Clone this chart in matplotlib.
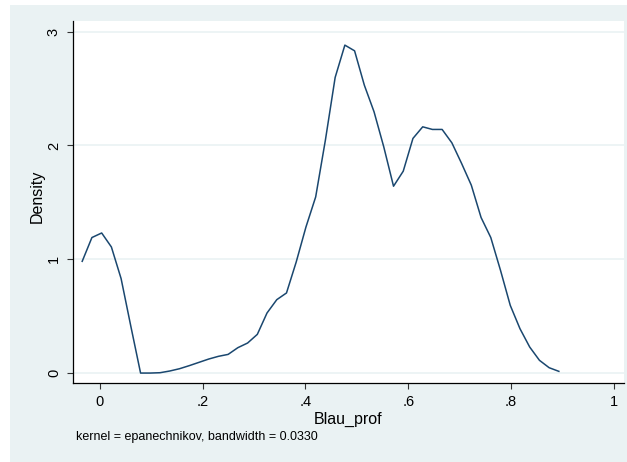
import matplotlib
matplotlib.use("Agg")
import matplotlib.pyplot as plt
from matplotlib.patches import Rectangle

# kdensity evaluation points (Stata default n=50)
grid_x = [-0.0345, -0.0156, 0.0034, 0.0223, 0.0412, 0.0602, 0.0791, 0.0980,
          0.1170, 0.1359, 0.1548, 0.1738, 0.1927, 0.2116, 0.2306, 0.2495,
          0.2684, 0.2874, 0.3063, 0.3252, 0.3442, 0.3631, 0.3820, 0.4010,
          0.4199, 0.4388, 0.4578, 0.4767, 0.4956, 0.5146, 0.5335, 0.5524,
          0.5714, 0.5903, 0.6092, 0.6282, 0.6471, 0.6660, 0.6850, 0.7039,
          0.7228, 0.7418, 0.7607, 0.7796, 0.7986, 0.8175, 0.8364, 0.8554,
          0.8743, 0.8932]
density = [0.982, 1.191, 1.231, 1.108, 0.830, 0.410, 0.0, 0.0,
           0.003, 0.018, 0.038, 0.065, 0.094, 0.123, 0.147, 0.164,
           0.223, 0.264, 0.340, 0.528, 0.645, 0.704, 0.976, 1.284,
           1.548, 2.047, 2.598, 2.882, 2.832, 2.530, 2.296, 1.988,
           1.642, 1.774, 2.062, 2.164, 2.141, 2.141, 2.023, 1.842,
           1.651, 1.367, 1.191, 0.903, 0.595, 0.390, 0.229, 0.112,
           0.047, 0.015]

x_ticks = [0, 0.2, 0.4, 0.6, 0.8, 1.0]
x_ticklabels = ["0", ".2", ".4", ".6", ".8", "1"]
y_ticks = [0, 1, 2, 3]
y_ticklabels = ["0", "1", "2", "3"]

plt.rcParams['font.family'] = ['Liberation Sans', 'DejaVu Sans']

bg = "#eaf2f3"
fig = plt.figure(figsize=(6.27, 4.62), dpi=100)
fig.patch.set_facecolor("white")
# stata-style outer region (image is cropped a bit on top/left)
fig.patches.append(Rectangle((10 / 627, 0), 1, 1 - 5 / 462, transform=fig.transFigure,
                             facecolor=bg, edgecolor="none", zorder=-5))

ax = fig.add_axes([72.7 / 627, 1 - 383.3 / 462, (623.5 - 72.7) / 627, (383.3 - 21) / 462])
ax.set_zorder(2)
ax.set_facecolor("white")

for yt in y_ticks:
    ax.axhline(yt, color=bg, lw=1.2, zorder=1)

ax.plot(grid_x, density, color="#1a476f", lw=1.1, zorder=3)

ax.set_xlim(-0.053, 1.019)
ax.set_ylim(-0.09, 3.094)

ax.set_xticks(x_ticks)
ax.set_xticklabels(x_ticklabels, fontsize=10.5)
ax.set_yticks(y_ticks)
ax.set_yticklabels(y_ticklabels, fontsize=10.5, rotation=90, va="center")
ax.tick_params(direction="out", length=4.5, width=0.8, color="#333333", pad=4)

for s in ["top", "right"]:
    ax.spines[s].set_visible(False)
for s in ["left", "bottom"]:
    ax.spines[s].set_color("black")
    ax.spines[s].set_linewidth(0.9)

ax.set_xlabel("Blau_prof", fontsize=11.5)
ax.xaxis.label.set_va("center")
ax.xaxis.set_label_coords(0.5, -0.0985)
ax.set_ylabel("Density", fontsize=11.5)
ax.yaxis.label.set_va("center")
ax.yaxis.set_label_coords(-0.0648, 0.5156)

fig.text(76 / 627, 1 - 437 / 462, "kernel = epanechnikov, bandwidth = 0.0330",
         fontsize=9, va="center", ha="left")

fig.savefig("out.png", dpi=100)
